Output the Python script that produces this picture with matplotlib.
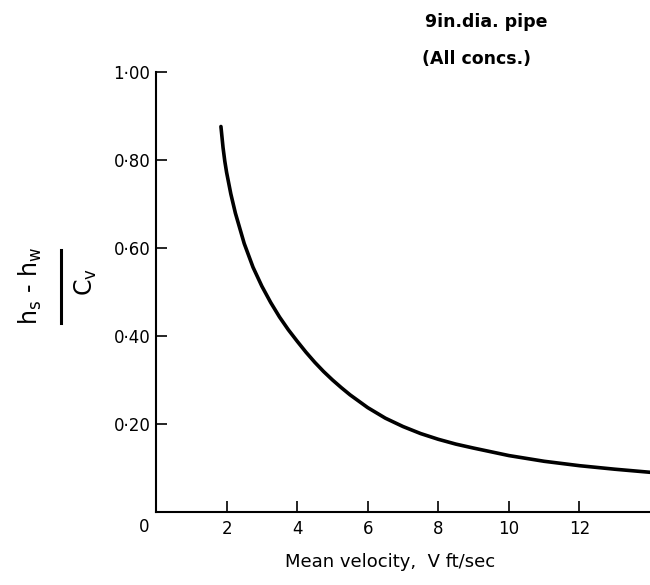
import matplotlib.pyplot as plt
from matplotlib.lines import Line2D

plt.rcParams['font.family'] = ['DejaVu Sans']

# curve
velocity = [1.84, 1.9, 1.95, 2.0, 2.12, 2.25, 2.5, 2.75, 3.0, 3.25, 3.5, 3.75, 4.0,
            4.25, 4.5, 4.75, 5.0, 5.25, 5.5, 6.0, 6.5, 7.0, 7.5, 8.0, 8.5, 9.0,
            10.0, 11.0, 12.0, 13.0, 14.0]
head_ratio = [0.876, 0.828, 0.797, 0.772, 0.723, 0.679, 0.61, 0.556, 0.513, 0.476,
              0.443, 0.414, 0.388, 0.363, 0.34, 0.319, 0.30, 0.2825, 0.266, 0.237,
              0.213, 0.194, 0.178, 0.165, 0.154, 0.145, 0.128, 0.115, 0.105, 0.097, 0.09]

xticks = [2, 4, 6, 8, 10, 12]
yticks = [0.2, 0.4, 0.6, 0.8, 1.0]
ytick_labels = ['0·20', '0·40', '0·60', '0·80', '1·00']

fig = plt.figure(figsize=(6.5, 5.85), dpi=100)
ax = fig.add_axes([0.24, 0.125, 0.76, 0.752])

ax.plot(velocity, head_ratio, color='black', lw=2.6,
        solid_capstyle='round', solid_joinstyle='round')

ax.set_xlim(0, 14)
ax.set_ylim(0, 1.0)
ax.spines['top'].set_visible(False)
ax.spines['right'].set_visible(False)
for s in ('left', 'bottom'):
    ax.spines[s].set_linewidth(1.5)

ax.set_xticks(xticks)
ax.set_xticklabels([str(t) for t in xticks])
ax.set_yticks(yticks)
ax.set_yticklabels(ytick_labels)
ax.tick_params(direction='in', length=8, width=1.2, labelsize=12, pad=6)
ax.tick_params(axis='y', pad=4)
ax.text(-0.35, -0.035, '0', ha='center', va='center', fontsize=12)

fig.text(0.6, 0.039, 'Mean velocity,  V ft/sec', ha='center', va='center', fontsize=13)

# y label drawn as a fraction
fig.text(0.046, 0.511, r'h$_\mathregular{s}$ - h$_\mathregular{w}$', rotation=90,
         ha='center', va='center', fontsize=17)
fig.add_artist(Line2D([0.094, 0.094], [0.448, 0.573], color='black', lw=2.2,
                      transform=fig.transFigure))
fig.text(0.132, 0.518, r'C$_\mathregular{v}$', rotation=90,
         ha='center', va='center', fontsize=17)

fig.text(0.654, 0.962, '9in.dia. pipe', fontsize=12.5, fontweight='bold', va='center')
fig.text(0.649, 0.9, '(All concs.)', fontsize=12.5, fontweight='bold', va='center')

fig.savefig('out.png', dpi=100)
